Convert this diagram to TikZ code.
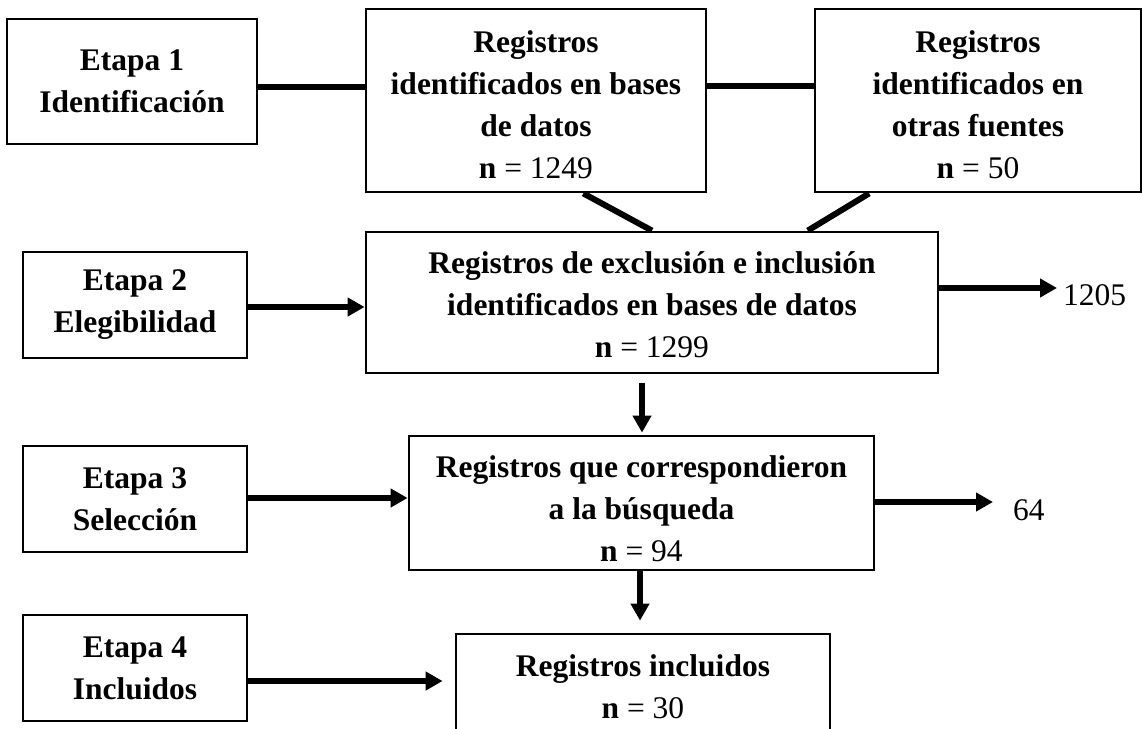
\documentclass[tikz,border=0pt]{standalone}
\usepackage{fontspec}
\setmainfont{Liberation Serif}
\usetikzlibrary{arrows.meta,calc}
\newcommand\toprule[1]{\rule{0pt}{#1}}
\begin{document}
\begin{tikzpicture}[x=1pt,y=-1pt,
  box/.style={draw,line width=2.8pt,rectangle,inner sep=0pt,align=center,
    font=\bfseries\fontsize{31.5}{42}\selectfont},
  conn/.style={line width=6pt},
  arr/.style={line width=6pt,-{Triangle[length=17pt,width=18pt]}},
  num/.style={inner sep=0pt,anchor=west,font=\fontsize{31.5}{42}\selectfont}]
\useasboundingbox (0,0) rectangle (1142,728);
\clip (0,0) rectangle (1142,728);
\fill[white] (0,0) rectangle (1142,728);

% stage boxes
\node[box,minimum width=250pt,minimum height=125pt] (e1) at (132,81.5) {Etapa 1\\Identificación};
\node[box,minimum width=224pt,minimum height=106pt] (e2) at (135,305) {Etapa 2\\Elegibilidad};
\node[box,minimum width=224pt,minimum height=106pt] (e3) at (135,499) {Etapa 3\\Selección};
\node[box,minimum width=224pt,minimum height=106pt] (e4) at (135,668) {Etapa 4\\Incluidos};

% record boxes
\node[box,minimum width=340pt,minimum height=183pt] (a) at (536,100.5)
  {\toprule{29.6pt}Registros\\identificados en bases\\de datos\\n \mdseries= 1249};
\node[box,minimum width=326pt,minimum height=183pt] (b) at (978,100.5)
  {\toprule{29.6pt}Registros\\identificados en\\otras fuentes\\n \mdseries= 50};
\node[box,minimum width=572pt,minimum height=141pt] (c) at (652,302.5)
  {\toprule{26.6pt}Registros de exclusión e inclusión\\identificados en bases de datos\\n \mdseries= 1299};
\node[box,minimum width=465pt,minimum height=134pt] (d) at (641.5,503)
  {\toprule{33.6pt}Registros que correspondieron\\a la búsqueda\\n \mdseries= 94};
\node[box,minimum width=374pt,minimum height=106pt] (e) at (643,687)
  {Registros incluidos\\n \mdseries= 30};

% excluded counts
\node[num] (t1205) at (1063,295) {1205};
\node[num] (t64) at (1013,510) {64};

% helper levels
\coordinate (y1) at (0,87);
\coordinate (y2) at (0,86);
\coordinate (y3) at (0,307);
\coordinate (y4) at (0,288);
\coordinate (y5) at (0,498);
\coordinate (y6) at (0,502);
\coordinate (y7) at (0,681);
\coordinate (x1) at (642,0);
\coordinate (x2) at (640,0);

% connectors
\draw[conn] (e1.east |- y1) -- (a.west |- y1);
\draw[conn] (a.east |- y2) -- (b.west |- y2);
\draw[conn] ($(a.south west)!0.638!(a.south east)$) -- (c.north);
\draw[conn] ($(b.south west)!0.169!(b.south east)$) -- ($(c.north west)!0.771!(c.north east)$);

\draw[arr] (e2.east |- y3) -- (c.west |- y3);
\draw[arr,shorten >=6pt] (c.east |- y4) -- (t1205.west |- y4);
\draw[arr,shorten <=9pt,shorten >=2pt] (c.south -| x1) -- (d.north -| x1);
\draw[arr] (e3.east |- y5) -- (d.west |- y5);
\draw[arr,shorten >=20pt] (d.east |- y6) -- (t64.west |- y6);
\draw[arr,shorten >=12pt] (d.south -| x2) -- (e.north -| x2);
\draw[arr,shorten >=12pt] (e4.east |- y7) -- (e.west |- y7);
\end{tikzpicture}
\end{document}
